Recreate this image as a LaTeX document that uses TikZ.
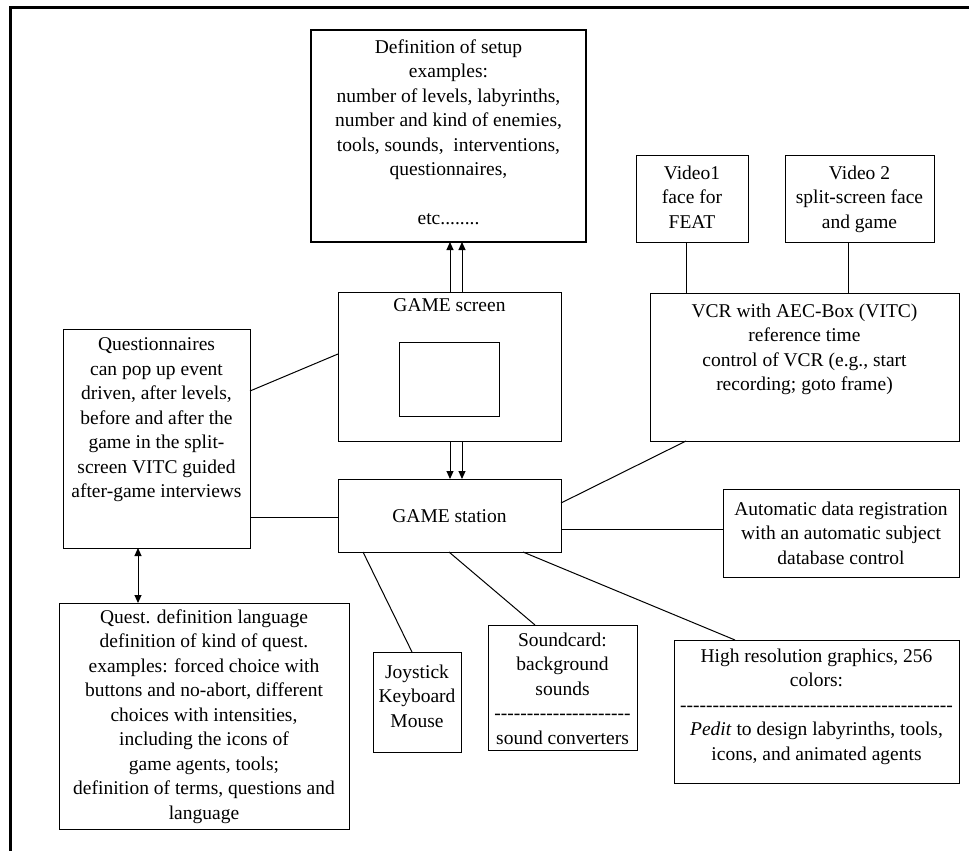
\documentclass[tikz,border=0pt]{standalone}
\usepackage{fontspec}
\setmainfont{Liberation Serif}
\usetikzlibrary{arrows.meta}
\newcommand\hyrow[1]{\count255=0 \loop\ifnum\count255<#1 -\kern0pt\advance\count255 by 1 \repeat}
\begin{document}
\begin{tikzpicture}[x=1pt,y=-1pt,
  box/.style={draw=black,line width=1pt,inner sep=0pt,outer sep=0pt},
  txt/.style={align=center,inner sep=0pt,font=\fontsize{19.5}{24.5}\selectfont},
  conn/.style={draw=black,line width=1pt},
  arr/.style={conn,-{Triangle[length=8pt,width=7pt]}},
  darr/.style={conn,{Triangle[length=8pt,width=7pt]}-{Triangle[length=8pt,width=7pt]}}]
\useasboundingbox (0,0) rectangle (969,851);
% outer frame
\draw[line width=3pt] (10,851) -- (10,8) -- (969,8);
% boxes
\node[box,line width=2.6pt,minimum width=275pt,minimum height=212pt] (setup) at (448.5,136) {};
\node[box,minimum width=223pt,minimum height=149pt] (scr) at (449.5,366.5) {};
\node[box,minimum width=100pt,minimum height=74pt] (scrin) at (449,379) {};
\node[box,minimum width=223pt,minimum height=73pt] (sta) at (449.5,515.5) {};
\node[box,minimum width=187pt,minimum height=219pt] (qn) at (156.5,438.5) {};
\node[box,minimum width=290pt,minimum height=226pt] (qd) at (204,716) {};
\node[box,minimum width=112pt,minimum height=87pt] (v1) at (692,198.5) {};
\node[box,minimum width=149pt,minimum height=87pt] (v2) at (859.5,198.5) {};
\node[box,minimum width=309pt,minimum height=148pt] (vcr) at (804.5,367) {};
\node[box,minimum width=236pt,minimum height=88pt] (aut) at (841,533) {};
\node[box,minimum width=88pt,minimum height=100pt] (joy) at (417,702) {};
\node[box,minimum width=149pt,minimum height=125pt] (snd) at (562.5,687.5) {};
\node[box,minimum width=285pt,minimum height=143pt] (hr) at (816.5,711.5) {};
% texts
\node[txt,anchor=north] (setupt) at (448.5,39.5) {Definition of setup\\examples:\\number of levels, labyrinths,\\number and kind of enemies,\\tools, sounds,\ \ interventions,\\questionnaires,\\\mbox{}\\etc........};
\node[txt,anchor=north] (scrt) at (449.5,298.5) {GAME screen};
\node[txt] (stat) at (449.5,516) {GAME station};
\node[txt,anchor=north] (qnt) at (156.5,337.5) {Questionnaires\\can pop up event\\driven, after levels,\\before and after the\\game in the split-\\screen VITC guided\\after-game interviews};
\node[txt,anchor=north] (qdt) at (204,609.5) {Quest. definition language\\definition of kind of quest.\\examples: forced choice with\\buttons and no-abort, different\\choices with intensities,\\including the icons of\\game agents, tools;\\definition of terms, questions and\\language};
\node[txt,anchor=north] (v1t) at (692,165.5) {Video1\\face for\\FEAT};
\node[txt,anchor=north] (v2t) at (859.5,165.5) {Video 2\\split-screen face\\and game};
\node[txt,anchor=north] (vcrt) at (804.5,303.5) {VCR with AEC-Box (VITC)\\reference time\\control of VCR (e.g., start\\recording; goto frame)};
\node[txt] (autt) at (841,533) {Automatic data registration\\with an automatic subject\\database control};
\node[txt,anchor=north] (joyt) at (417,664.5) {Joystick\\Keyboard\\Mouse};
\node[txt,anchor=north] (sndt) at (562.5,632.5) {Soundcard:\\background\\sounds\\\hyrow{21}\\sound converters};
\node[txt,anchor=north] (hrt) at (816.5,648.5) {High resolution graphics, 256\\colors:\\\hyrow{42}\\\textit{Pedit} to design labyrinths, tools,\\icons, and animated agents};
% connectors
\draw[arr] ([xshift=0.5pt]scr.north) -- ([xshift=0.5pt]scr.north |- setup.south);
\draw[arr] ([xshift=12.5pt]scr.north) -- ([xshift=12.5pt]scr.north |- setup.south);
\draw[arr] ([xshift=0.5pt]scr.south) -- ([xshift=0.5pt]scr.south |- sta.north);
\draw[arr] ([xshift=12.5pt]scr.south) -- ([xshift=12.5pt]scr.south |- sta.north);
\draw[conn] ([yshift=47.5pt]qn.east) -- ([yshift=12.5pt]scr.west);
\draw[conn] ([yshift=-1.5pt]sta.west) -- ([yshift=-1.5pt]sta.west -| qn.east);
\draw[darr] ([xshift=-18.5pt]qn.south) -- ([xshift=-18.5pt]qn.south |- qd.north);
\draw[conn] ([xshift=-6pt]v1.south) -- ([xshift=-6pt]v1.south |- vcr.north);
\draw[conn] ([xshift=-11.5pt]v2.south) -- ([xshift=-11.5pt]v2.south |- vcr.north);
\draw[conn] ([yshift=12.5pt]sta.east) -- ([xshift=-118.5pt]vcr.south);
\draw[conn] ([yshift=-13.5pt]sta.east) -- ([yshift=-13.5pt]sta.east -| aut.west);
\draw[conn] ([xshift=-86.5pt]sta.south) -- ([xshift=-5pt]joy.north);
\draw[conn] ([xshift=-0.5pt]sta.south) -- ([xshift=-27.5pt]snd.north);
\draw[conn] ([xshift=73.5pt]sta.south) -- ([xshift=-81.5pt]hr.north);
\end{tikzpicture}
\end{document}
